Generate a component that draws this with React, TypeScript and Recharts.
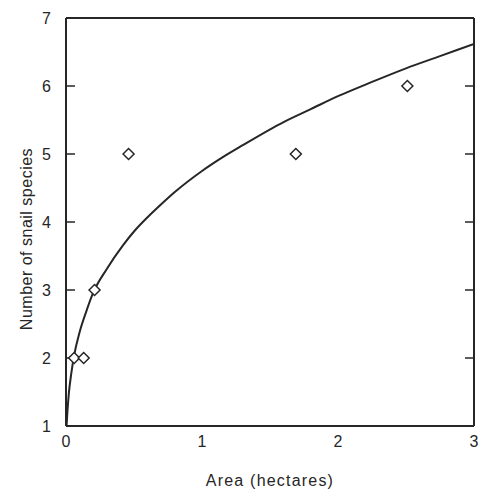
import { ScatterChart, Scatter, XAxis, YAxis, Label } from 'recharts'

// observed plots: area in hectares vs number of snail species
const areas = [0.06, 0.13, 0.21, 0.46, 1.69, 2.51]
const species = [2, 2, 3, 5, 5, 6]

// fitted curve
const curveX = [0.004, 0.01, 0.02, 0.04, 0.06, 0.1, 0.15, 0.2, 0.3, 0.42, 0.5, 0.6, 0.7, 0.8, 1.0, 1.15, 1.3, 1.6, 1.8, 2.0, 2.25, 2.5, 2.75, 3.0]
const curveY = [1.0, 1.2, 1.46, 1.79, 2.04, 2.38, 2.69, 2.96, 3.31, 3.66, 3.86, 4.07, 4.26, 4.44, 4.75, 4.95, 5.13, 5.47, 5.66, 5.85, 6.06, 6.26, 6.44, 6.62]

const xTicks = [0, 1, 2, 3]
const yTicks = [1, 2, 3, 4, 5, 6, 7]
const xInnerTicks = [1, 2]
const yInnerTicks = [2, 3, 4, 5, 6]

const points = areas.map((x, i) => ({ x, y: species[i] }))
const curve = curveX.map((x, i) => ({ x, y: curveY[i] }))

const ink = '#262626'
const font = '"Liberation Sans", Arial, Helvetica, sans-serif'

function Diamond(props: any) {
  const { cx, cy } = props
  const r = 5.5
  return (
    <path
      d={`M${cx},${cy - r}L${cx + r},${cy}L${cx},${cy + r}L${cx - r},${cy}Z`}
      fill="#fff"
      stroke={ink}
      strokeWidth={1.5}
    />
  )
}

const noLabel = () => <g />

function YTitle(props: any) {
  const { viewBox } = props
  const x = viewBox.x + 10
  const y = viewBox.y + viewBox.height / 2 + 17
  return (
    <text
      x={x}
      y={y}
      transform={`rotate(-90, ${x}, ${y})`}
      textAnchor="middle"
      dominantBaseline="central"
      fontSize={16}
      letterSpacing={0.5}
      fill={ink}
      fontFamily={font}
    >
      Number of snail species
    </text>
  )
}

export default function App() {
  return (
    <div style={{ position: 'absolute', left: 0, top: 0, background: '#fff' }}>
      <ScatterChart width={479} height={493} margin={{ top: 18, right: 5, left: 16, bottom: 7 }}>
        <XAxis
          xAxisId="b"
          type="number"
          dataKey="x"
          domain={[0, 3]}
          ticks={xTicks}
          allowDataOverflow
          height={60}
          tickLine={false}
          tickSize={0}
          tickMargin={10}
          axisLine={{ stroke: ink, strokeWidth: 2 }}
          tick={{ fill: ink, fontSize: 16, fontFamily: font }}
        >
          <Label
            value="Area (hectares)"
            position="insideBottom"
            offset={0}
            fill={ink}
            fontSize={16}
            letterSpacing={1.2}
            fontFamily={font}
          />
        </XAxis>
        <XAxis
          xAxisId="bm"
          type="number"
          domain={[0, 3]}
          ticks={xInnerTicks}
          allowDataOverflow
          mirror
          tick={noLabel}
          tickSize={9}
          axisLine={false}
          tickLine={{ stroke: ink, strokeWidth: 1.5 }}
        />
        <XAxis
          xAxisId="t"
          orientation="top"
          type="number"
          domain={[0, 3]}
          ticks={xInnerTicks}
          allowDataOverflow
          mirror
          tick={noLabel}
          tickSize={9}
          axisLine={{ stroke: ink, strokeWidth: 2 }}
          tickLine={{ stroke: ink, strokeWidth: 1.5 }}
        />
        <YAxis
          yAxisId="l"
          type="number"
          dataKey="y"
          domain={[1, 7]}
          ticks={yTicks}
          allowDataOverflow
          width={50}
          tickLine={false}
          tickSize={0}
          tickMargin={15}
          axisLine={{ stroke: ink, strokeWidth: 2 }}
          tick={{ fill: ink, fontSize: 16, fontFamily: font }}
        >
          <Label content={<YTitle />} />
        </YAxis>
        <YAxis
          yAxisId="lm"
          type="number"
          domain={[1, 7]}
          ticks={yInnerTicks}
          allowDataOverflow
          mirror
          tick={noLabel}
          tickSize={9}
          axisLine={false}
          tickLine={{ stroke: ink, strokeWidth: 1.5 }}
        />
        <YAxis
          yAxisId="r"
          orientation="right"
          type="number"
          domain={[1, 7]}
          ticks={yInnerTicks}
          allowDataOverflow
          mirror
          tick={noLabel}
          tickSize={9}
          axisLine={{ stroke: ink, strokeWidth: 2 }}
          tickLine={{ stroke: ink, strokeWidth: 1.5 }}
        />
        <Scatter
          xAxisId="b"
          yAxisId="l"
          data={curve}
          line={{ stroke: ink, strokeWidth: 2 }}
          lineJointType="monotoneX"
          shape={() => <g />}
          isAnimationActive={false}
        />
        <Scatter
          xAxisId="b"
          yAxisId="l"
          data={points}
          shape={<Diamond />}
          isAnimationActive={false}
        />
      </ScatterChart>
    </div>
  )
}
